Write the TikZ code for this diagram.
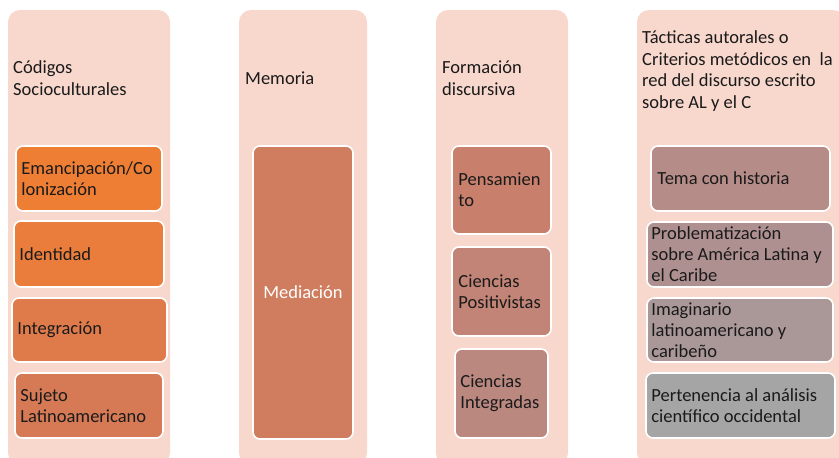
\documentclass[tikz,border=0pt]{standalone}
\usepackage{fontspec}
\setmainfont{Carlito}
\definecolor{outerfill}{HTML}{F8D8CD}
\definecolor{cA}{HTML}{EE7E33}
\definecolor{cB}{HTML}{EA7D3C}
\definecolor{cC}{HTML}{DF7B4B}
\definecolor{cD}{HTML}{D67A56}
\definecolor{cE}{HTML}{CF7C5F}
\definecolor{cF}{HTML}{C8806C}
\definecolor{cG}{HTML}{C28476}
\definecolor{cH}{HTML}{BB8880}
\definecolor{cI}{HTML}{B58C88}
\definecolor{cJ}{HTML}{AF9091}
\definecolor{cK}{HTML}{AA9899}
\definecolor{cL}{HTML}{A5A5A5}
\definecolor{txt}{HTML}{1A1A1A}
\begin{document}
\begin{tikzpicture}[x=1pt,y=-1pt,
  outerbox/.style={fill=outerfill, draw=none, rounded corners=12pt, inner sep=0pt},
  innerbox/.style={draw=white, line width=1.6pt, rounded corners=7pt, inner sep=0pt},
  boxtext/.style={anchor=west, align=left, inner sep=0pt, text=txt, font=\fontsize{18.5}{21}\selectfont},
  titletext/.style={anchor=west, align=left, inner sep=0pt, text=txt, font=\fontsize{18.5}{21.7}\selectfont}]
\useasboundingbox (0,0) rectangle (839,458);
\clip (0,0) rectangle (839,458);
% outer columns
\node[outerbox, minimum width=162pt, minimum height=455pt] (c1) at (89,237.5) {};
\node[outerbox, minimum width=128pt, minimum height=455pt] (c2) at (303,237.5) {};
\node[outerbox, minimum width=132pt, minimum height=455pt] (c3) at (502,237.5) {};
\node[outerbox, minimum width=208pt, minimum height=455pt] (c4) at (741,237.5) {};
% titles
\node[titletext] (t1) at (13,78) {Códigos\\Socioculturales};
\node[titletext] (t2) at (245,78) {Memoria};
\node[titletext] (t3) at (442,78) {Formación\\discursiva};
\node[titletext] (t4) at (642,71) {Tácticas autorales o\\Criterios metódicos en\ \ la\\red del discurso escrito\\sobre AL y el C};
% column 1
\node[innerbox, fill=cA, minimum width=146pt, minimum height=65pt] (b1) at (89,178.5) {};
\node[boxtext] (b1t) at ([xshift=6pt]b1.west) {Emancipación/Co\\lonización};
\node[innerbox, fill=cB, minimum width=150pt, minimum height=66pt] (b2) at (89,254) {};
\node[boxtext] (b2t) at ([xshift=6pt]b2.west) {Identidad};
\node[innerbox, fill=cC, minimum width=155pt, minimum height=64pt] (b3) at (89.5,330) {};
\node[boxtext] (b3t) at ([xshift=6pt]b3.west) {Integración};
\node[innerbox, fill=cD, minimum width=148pt, minimum height=65pt] (b4) at (89,405.5) {};
\node[boxtext] (b4t) at ([xshift=6pt]b4.west) {Sujeto\\Latinoamericano};
% column 2
\node[innerbox, fill=cE, minimum width=100pt, minimum height=293pt] (m1) at (303,292.5) {};
\node[boxtext, anchor=center, text=white] (m1t) at (m1.center) {Mediación};
% column 3
\node[innerbox, fill=cF, minimum width=99pt, minimum height=88pt] (f1) at (501.5,190) {};
\node[boxtext] (f1t) at ([xshift=7pt]f1.west) {Pensamien\\to};
\node[innerbox, fill=cG, minimum width=99pt, minimum height=89pt] (f2) at (501.5,291.5) {};
\node[boxtext] (f2t) at ([xshift=7pt]f2.west) {Ciencias\\Positivistas};
\node[innerbox, fill=cH, minimum width=93pt, minimum height=89pt] (f3) at (501.5,393.5) {};
\node[boxtext] (f3t) at ([xshift=6pt]f3.west) {Ciencias\\Integradas};
% column 4
\node[innerbox, fill=cI, minimum width=179pt, minimum height=65pt] (d1) at (740.5,178.5) {};
\node[boxtext] (d1t) at ([xshift=7pt]d1.west) {Tema con historia};
\node[innerbox, fill=cJ, minimum width=186pt, minimum height=65pt] (d2) at (740,254.5) {};
\node[boxtext] (d2t) at ([xshift=5pt]d2.west) {Problematización\\sobre América Latina y\\el Caribe};
\node[innerbox, fill=cK, minimum width=186pt, minimum height=64pt] (d3) at (740,330) {};
\node[boxtext] (d3t) at ([xshift=5pt]d3.west) {Imaginario\\latinoamericano y\\caribeño};
\node[innerbox, fill=cL, minimum width=189pt, minimum height=65pt] (d4) at (740.5,405.5) {};
\node[boxtext] (d4t) at ([xshift=6pt]d4.west) {Pertenencia al análisis\\científico occidental};
\end{tikzpicture}
\end{document}
